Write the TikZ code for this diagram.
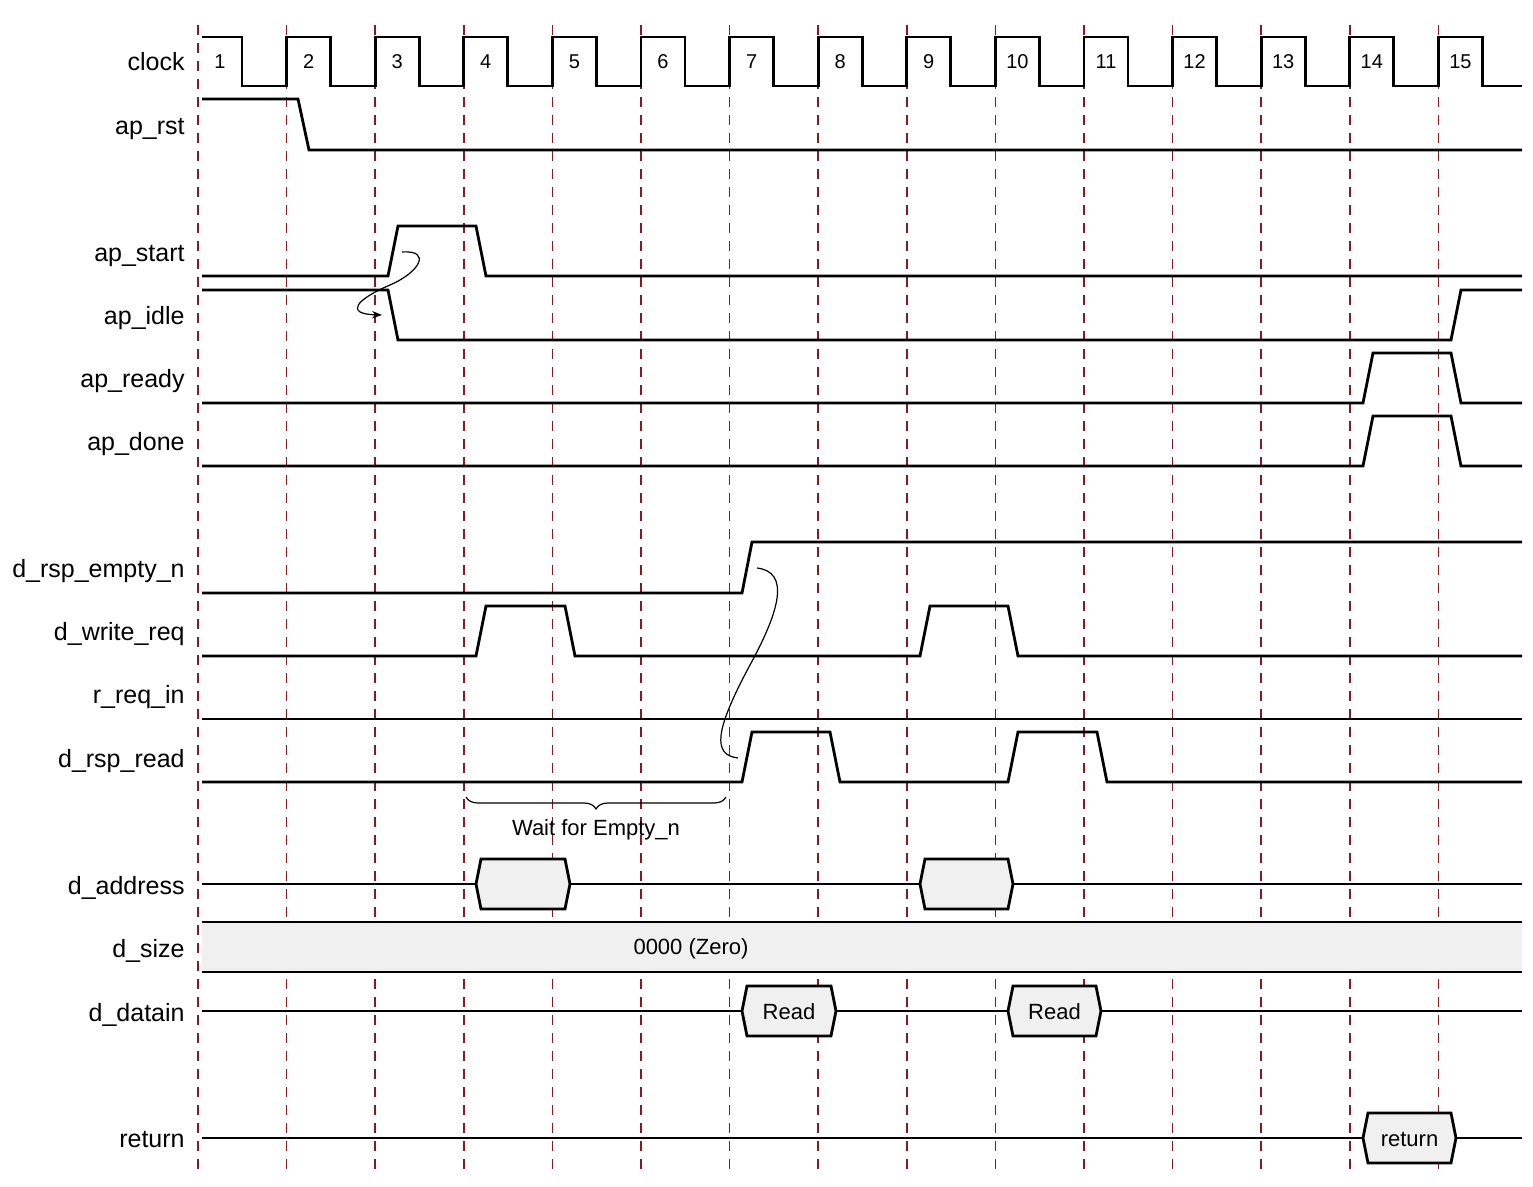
\documentclass[tikz,border=0pt]{standalone}
\usepackage{fontspec}
\setmainfont{Liberation Sans}
\usetikzlibrary{arrows.meta,decorations.pathreplacing}
\definecolor{gridred}{RGB}{135,25,35}
\definecolor{busgray}{RGB}{240,240,240}
% bus value box: name, left x, right x, y, text
\newcommand{\busval}[5]{%
  \draw[bus] (#2,#4) -- (#2+5,#4-25) -- (#3-5,#4-25) -- (#3,#4) -- (#3-5,#4+25) -- (#2+5,#4+25) -- cycle;
  \node[val] (#1) at ({(#2+#3)/2},#4+1) {#5};}

\begin{document}
\begin{tikzpicture}[x=0.5pt,y=-0.5pt,
  sig/.style={line width=1.4pt},
  bus/.style={line width=1.4pt,fill=busgray},
  tick/.style={gridred,line width=0.8pt,dash pattern=on 5pt off 4pt},
  note/.style={line width=0.6pt},
  lbl/.style={anchor=base east,inner sep=0pt,font=\fontsize{12.5}{14}\selectfont},
  val/.style={inner sep=0pt,font=\fontsize{11}{13}\selectfont},
  num/.style={inner sep=0pt,font=\fontsize{10}{12}\selectfont}]
\useasboundingbox (0,0) rectangle (1533,1187);

\foreach \k in {1,...,15}
  \draw[tick] ({198+88.6*(\k-1)},25) -- ++(0,1150);

% signal names
\foreach \n/\t/\y in {clk/clock/62, rst/ap\_rst/126, start/ap\_start/253, idle/ap\_idle/316,
    ready/ap\_ready/379, done/ap\_done/442, empty/d\_rsp\_empty\_n/569, wreq/d\_write\_req/632,
    rreq/r\_req\_in/695, rread/d\_rsp\_read/759, addr/d\_address/885, size/d\_size/948,
    din/d\_datain/1012, ret/return/1138}
  \node[lbl] (l-\n) at (185,\y+9) {\t};

% clock
\draw[sig] (202,37) -- (242,37) -- (242,86)
  foreach \k in {2,...,15}{ -- ({198+88.6*(\k-1)},86) -- ++(0,-49) -- ++(44,0) -- ++(0,49)} -- (1522,86);
\foreach \k in {1,...,15}
  \node[num] (c\k) at ({220+88.6*(\k-1)},62) {\k};

% control
\draw[sig] (202,99) -- (298,99) -- (309,150) -- (1522,150);
\draw[sig] (202,276) -- (388,276) -- (398,226) -- (476,226) -- (486,276) -- (1522,276);
\draw[sig] (202,290) -- (388,290) -- (398,340) -- (1451,340) -- (1461,290) -- (1522,290);
\draw[sig] (202,403) -- (1363,403) -- (1373,353) -- (1451,353) -- (1461,403) -- (1522,403);
\draw[sig] (202,466) -- (1363,466) -- (1373,416) -- (1451,416) -- (1461,466) -- (1522,466);

% interface
\draw[sig] (202,593) -- (742,593) -- (752,542) -- (1522,542);
\draw[sig] (202,656) -- (476,656) -- (486,606) -- (565,606) -- (575,656) -- (920,656)
  -- (930,606) -- (1008,606) -- (1018,656) -- (1522,656);
\draw[sig] (202,719) -- (1522,719);
\draw[sig] (202,782) -- (742,782) -- (752,732) -- (830,732) -- (840,782) -- (1008,782)
  -- (1018,732) -- (1097,732) -- (1107,782) -- (1522,782);

\draw[note,decorate,decoration={brace,mirror,amplitude=6pt}] (466,797) -- (726,797)
  node[val,midway,below=11pt] (wait) {Wait for Empty\_n};

% buses
\draw[sig] (202,884) -- (1522,884);
\busval{a1}{476}{570}{884}{}
\busval{a2}{920}{1013}{884}{}
\fill[busgray] (202,922) rectangle (1522,972);
\draw[sig] (202,922) -- (1522,922) (202,972) -- (1522,972);
\node[val] (zero) at (691,949) {0000 (Zero)};
\draw[sig] (202,1011) -- (1522,1011);
\busval{r1}{742}{836}{1011}{Read}
\busval{r2}{1008}{1101}{1011}{Read}
\draw[sig] (202,1138) -- (1522,1138);
\busval{rv}{1363}{1456}{1138}{return}

% causality
\coordinate (s-go) at (402,252);
\coordinate (i-go) at (382,315);
\coordinate (e-up) at (757,568);
\coordinate (rd-up) at (738,758);
\draw[note,-{Stealth[length=5pt]}] (s-go) .. controls (432,250) and (420,272) .. (390,285)
  .. controls (355,300) and (345,314) .. (i-go);
\draw[note] (e-up) .. controls (790,572) and (780,610) .. (750,665)
  .. controls (715,730) and (712,755) .. (rd-up);
\end{tikzpicture}
\end{document}
